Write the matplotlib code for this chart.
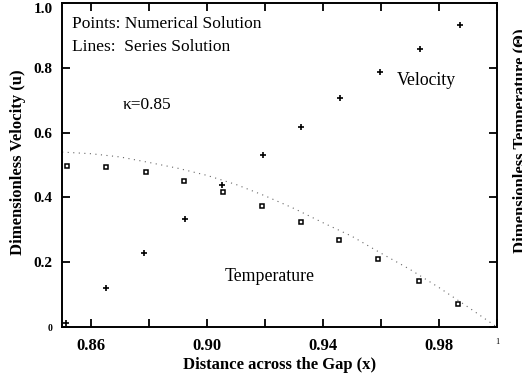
import matplotlib
matplotlib.use("Agg")
from matplotlib import pyplot as plt

# numerical solution, velocity (+)
vel_x = [0.8514, 0.8652, 0.8783, 0.8924, 0.9050, 0.9193, 0.9324, 0.9459, 0.9597, 0.9734, 0.9872]
vel_u = [0.012, 0.120, 0.230, 0.335, 0.437, 0.530, 0.618, 0.708, 0.788, 0.858, 0.932]

# numerical solution, temperature (squares)
tmp_x = [0.8517, 0.8652, 0.8790, 0.8921, 0.9055, 0.9190, 0.9324, 0.9455, 0.9590, 0.9731, 0.9866]
tmp_t = [0.498, 0.493, 0.478, 0.452, 0.416, 0.375, 0.323, 0.268, 0.209, 0.142, 0.071]

# series solution, temperature (dotted line)
ser_x = [0.85, 0.86, 0.87, 0.88, 0.89, 0.90, 0.91, 0.92, 0.93, 0.94, 0.95, 0.96, 0.97, 0.98, 0.99, 1.00]
ser_t = [0.540, 0.535, 0.525, 0.508, 0.490, 0.468, 0.440, 0.405, 0.366, 0.322, 0.280, 0.228, 0.178, 0.122, 0.062, 0.0]

xticks = [0.86, 0.90, 0.94, 0.98, 1.00]
xtick_labels = ["0.86", "0.90", "0.94", "0.98", "1"]
yticks = [0, 0.2, 0.4, 0.6, 0.8, 1.0]
ytick_labels = ["0", "0.2", "0.4", "0.6", "0.8", "1.0"]

plt.rcParams["font.family"] = ["Liberation Serif", "DejaVu Serif"]

fig = plt.figure(figsize=(5.22, 3.79), dpi=100)
ax = fig.add_axes([0.119, 0.137, 0.833, 0.855])

ax.plot(ser_x, ser_t, linestyle=(0, (1, 4)), color="#666666", linewidth=0.8)
ax.plot(vel_x, vel_u, "+", color="black", markersize=5, markeredgewidth=1.2)
ax.plot(tmp_x, tmp_t, "s", markerfacecolor="white", markeredgecolor="black",
        markersize=3.5, markeredgewidth=1.1)

ax.set_xlim(0.85, 1.0)
ax.set_ylim(0, 1.0)

ax.set_xticks(xticks)
ax.set_xticklabels(xtick_labels, fontweight="bold", fontsize=12)
ax.set_xticks([0.88, 0.92, 0.96], minor=True)
ax.set_yticks(yticks)
ax.set_yticklabels(ytick_labels, fontweight="bold", fontsize=11)
ax.get_xticklabels()[-1].set_fontsize(6)
ax.get_xticklabels()[-1].set_fontweight("normal")
ax.get_yticklabels()[0].set_fontsize(7)
ax.get_yticklabels()[-1].set_verticalalignment("top")

ax.tick_params(which="both", direction="in", top=True, right=True, length=6, width=1.3)
ax.tick_params(axis="x", pad=8)
ax.tick_params(axis="y", pad=7)
for s in ax.spines.values():
    s.set_linewidth(1.4)

ax.set_xlabel("Distance across the Gap (x)", fontweight="bold", fontsize=12, labelpad=2)
ax.set_ylabel("Dimensionless Velocity (u)", fontweight="bold", fontsize=12)
ax.yaxis.set_label_coords(-0.082, 0.51)

ax.text(0.8534, 0.935, "Points: Numerical Solution", fontsize=12.5, va="center")
ax.text(0.8534, 0.865, "Lines:  Series Solution", fontsize=12.5, va="center")
ax.text(0.8710, 0.685, "\u03ba=0.85", fontsize=12.5, va="center")
ax.text(0.9655, 0.760, "Velocity", fontsize=12.8, va="center")
ax.text(0.9062, 0.155, "Temperature", fontsize=12.8, va="center")

fig.text(513 / 522, 1 - 141 / 379, "Dimensionless Temperature (\u0398)", rotation=90,
         fontweight="bold", fontsize=12, ha="left", va="center")

fig.savefig("out.png", dpi=100)
